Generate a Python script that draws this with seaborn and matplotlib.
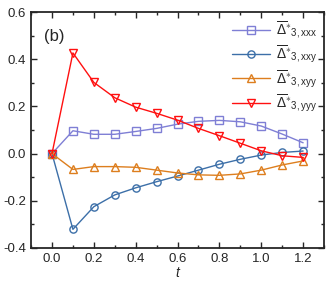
import numpy as np
import pandas as pd
import seaborn as sns
import matplotlib
matplotlib.use("Agg")
import matplotlib.pyplot as plt
from matplotlib.ticker import MultipleLocator

t = [0.0, 0.1, 0.2, 0.3, 0.4, 0.5, 0.6, 0.7, 0.8, 0.9, 1.0, 1.1, 1.2]
xxx = [0.0, 0.097, 0.082, 0.082, 0.094, 0.107, 0.125, 0.137, 0.141, 0.135, 0.117, 0.083, 0.046]
xxy = [0.0, -0.321, -0.225, -0.175, -0.145, -0.119, -0.095, -0.070, -0.045, -0.024, -0.006, 0.005, 0.011]
xyy = [0.0, -0.067, -0.055, -0.055, -0.058, -0.070, -0.082, -0.090, -0.092, -0.086, -0.070, -0.048, -0.031]
yyy = [0.0, 0.427, 0.302, 0.237, 0.197, 0.171, 0.142, 0.107, 0.076, 0.044, 0.012, -0.009, -0.016]

labels = [r'$\overline{\Delta}^{\ast}{}_{3,\mathrm{xxx}}$',
          r'$\overline{\Delta}^{\ast}{}_{3,\mathrm{xxy}}$',
          r'$\overline{\Delta}^{\ast}{}_{3,\mathrm{xyy}}$',
          r'$\overline{\Delta}^{\ast}{}_{3,\mathrm{yyy}}$']
series = [xxx, xxy, xyy, yyy]
colors = ['#7F7FD5', '#3C6FA8', '#DD7E1E', '#FF1010']
markers = ['s', 'o', '^', 'v']

sns.set_style("ticks")
plt.rcParams['font.family'] = ['Liberation Sans', 'DejaVu Sans']
plt.rcParams['mathtext.fontset'] = 'custom'
plt.rcParams['mathtext.rm'] = 'Liberation Sans'
plt.rcParams['mathtext.it'] = 'Liberation Sans:italic'
plt.rcParams['mathtext.default'] = 'rm'
plt.rcParams['axes.unicode_minus'] = False

fig = plt.figure(figsize=(3.27, 2.89), dpi=100)
ax = fig.add_axes([0.095, 0.142, 0.896, 0.816])

for vals, lab, c, m in zip(series, labels, colors, markers):
    sns.lineplot(x=t, y=vals, ax=ax, color=c, marker=m, label=lab,
                 markersize=5.2, markerfacecolor='none', markeredgecolor=c,
                 markeredgewidth=1.0, linewidth=1.0)

ax.set_xlim(-0.1, 1.3)
ax.set_ylim(-0.4, 0.6)
ax.xaxis.set_minor_locator(MultipleLocator(0.1))
ax.yaxis.set_major_locator(MultipleLocator(0.2))
ax.yaxis.set_minor_locator(MultipleLocator(0.1))
ax.tick_params(which='both', direction='in', top=True, right=True, labelsize=9.5, width=1)
ax.tick_params(which='major', length=4)
ax.tick_params(which='minor', length=2)
ax.set_xticks(np.arange(0, 1.21, 0.2))
ax.set_xticklabels([f'{v:.1f}' for v in np.arange(0, 1.21, 0.2)])
for s in ax.spines.values():
    s.set_linewidth(1.3)
ax.set_xlabel('t', style='italic', fontsize=10, labelpad=1)
ax.text(0.045, 0.93, '(b)', transform=ax.transAxes, fontsize=12, va='top')
leg = ax.legend(loc='upper right', frameon=False, fontsize=10, handlelength=2.8,
                labelspacing=0.2, borderaxespad=0.1, handletextpad=0.4)
fig.savefig('out.png', dpi=100)
